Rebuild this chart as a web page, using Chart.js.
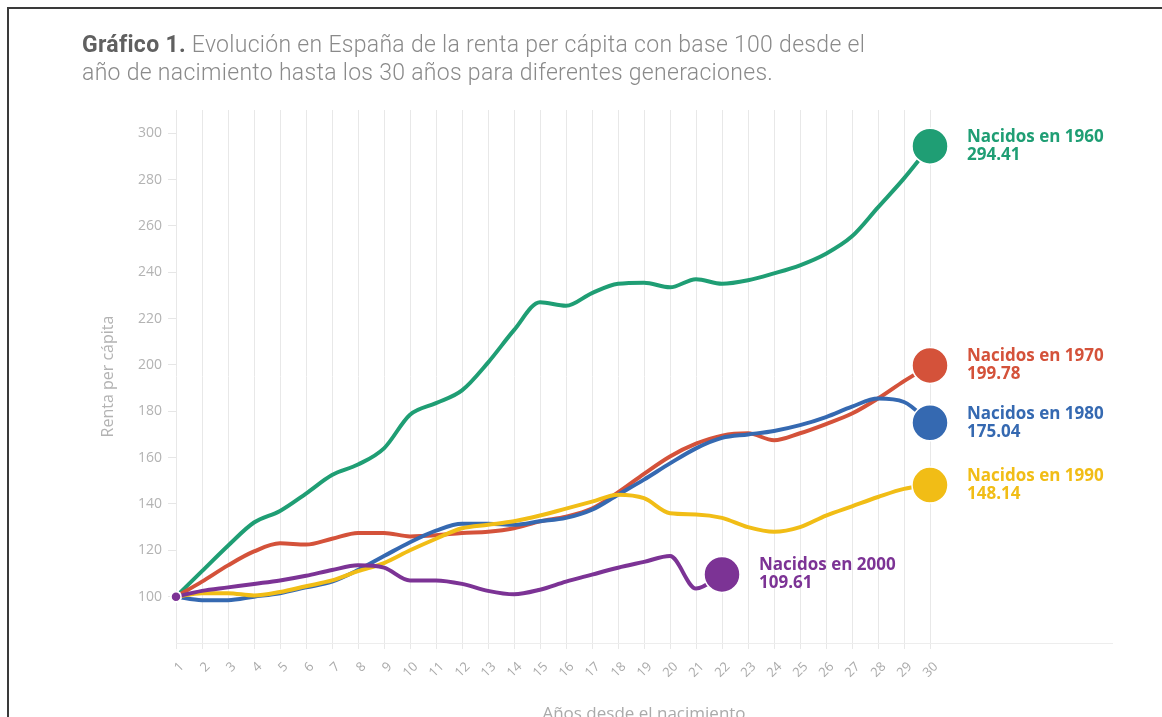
<!DOCTYPE html>
<html lang="es">
<head>
<meta charset="utf-8">
<title>Gráfico 1</title>
<script src="https://cdn.jsdelivr.net/npm/chart.js@4.4.1/dist/chart.umd.min.js"></script>
<style>
  html, body { margin: 0; padding: 0; background: #fff; overflow: hidden; }
  #wrap { position: relative; width: 1162px; height: 717px; overflow: hidden; }
  #frame { position: absolute; left: 7px; top: 7px; width: 1300px; height: 900px;
           border-top: 2px solid #3a3a3a; border-left: 2px solid #3a3a3a; }
  #title { position: absolute; left: 82px; top: 31px; font-family: Roboto, sans-serif;
           font-weight: 300; font-size: 23px; line-height: 28px; letter-spacing: 0.3px;
           color: #8a8a8a; white-space: nowrap; }
  #title b { font-weight: 700; color: #606060; }
  canvas { position: absolute; left: 0; top: 0; }
</style>
</head>
<body>
<div id="wrap">
  <div id="frame"></div>
  <canvas id="myChart" width="1162" height="740"></canvas>
  <div id="title"><b>Gráfico 1.</b> Evolución en España de la renta per cápita con base 100 desde el<br>año de nacimiento hasta los 30 años para diferentes generaciones.</div>
</div>
<script>
// years since birth (x axis)
const YEARS = [1, 2, 3, 4, 5, 6, 7, 8, 9, 10, 11, 12, 13, 14, 15,
  16, 17, 18, 19, 20, 21, 22, 23, 24, 25, 26, 27, 28, 29, 30];

const GENERATIONS = [1960, 1970, 1980, 1990, 2000];
const COLORS = ['#1f9e74', '#d4523a', '#3569b1', '#f1bd16', '#7c3395'];

// renta per capita, base 100 at birth
const NACIDOS_1960 = [100, 111, 122, 132, 137, 144.5, 152.5, 157, 164, 178.5,
  183.5, 189, 201, 215, 227, 225.5, 231, 235, 235.5, 233.5,
  237, 235, 236.5, 239.5, 243, 248, 255.5, 268, 280.5, 294.41];
const NACIDOS_1970 = [100, 106.5, 113.5, 119.5, 123, 122.5, 125, 127.5, 127.5, 126,
  126.5, 127.5, 128, 129.5, 132.5, 134.5, 138, 145, 153, 160.5,
  166, 169.5, 170.5, 167.5, 170.5, 174.5, 179, 185.5, 193, 199.78];
const NACIDOS_1980 = [100, 98.5, 98.5, 100, 101.5, 104, 106.5, 111.5, 117.5, 123.5,
  128.5, 131.5, 131.5, 131, 132.5, 134, 137.5, 144, 150.5, 157.5,
  164, 168.5, 170, 171.5, 174, 177.5, 182, 185.5, 184, 175.04];
const NACIDOS_1990 = [100, 101.5, 101.5, 100.5, 102, 104.5, 107, 111, 114.5, 120,
  125, 129.5, 131, 132.5, 135, 138, 141, 144, 142.5, 136,
  135.5, 134, 130, 128, 130, 135, 139, 143, 146.5, 148.14];
const NACIDOS_2000 = [100, 102.5, 104, 105.5, 107, 109, 111.5, 113.5, 112.5, 107,
  107, 105.5, 102.5, 101, 103, 106.5, 109.5, 112.5, 115, 117.5,
  103.5, 109.61];

const SERIES = [NACIDOS_1960, NACIDOS_1970, NACIDOS_1980, NACIDOS_1990, NACIDOS_2000];

const Y_TICKS = [100, 120, 140, 160, 180, 200, 220, 240, 260, 280, 300];

const DATASETS = SERIES.map((values, i) => ({
  label: String(GENERATIONS[i]),
  data: values.map((v, j) => ({ x: YEARS[j], y: v })),
  borderColor: COLORS[i],
  backgroundColor: COLORS[i],
  borderWidth: 4,
  borderCapStyle: 'round',
  cubicInterpolationMode: 'monotone',
  fill: false,
  clip: false,
  order: SERIES.length - i, // later generations on top
  pointBorderColor: '#ffffff',
  pointBorderWidth: 1.5,
  pointRadius: ctx => {
    const last = ctx.dataset.data.length - 1;
    if (ctx.dataIndex === last) return 18;
    return ctx.dataIndex === 0 ? 5 : 0;
  }
}));

// "Nacidos en XXXX / value" next to the end circle
const END_LABELS = {
  id: 'endLabels',
  afterDatasetsDraw(chart) {
    const { ctx } = chart;
    chart.data.datasets.forEach((ds, i) => {
      const meta = chart.getDatasetMeta(i);
      const pt = meta.data[meta.data.length - 1];
      const value = ds.data[ds.data.length - 1].y;
      ctx.save();
      ctx.fillStyle = ds.borderColor;
      ctx.font = 'bold 17px "Open Sans"';
      ctx.textAlign = 'left';
      ctx.textBaseline = 'middle';
      ctx.fillText('Nacidos en ' + ds.label, pt.x + 37, pt.y - 9);
      ctx.fillText(value.toFixed(2), pt.x + 37, pt.y + 9);
      ctx.restore();
    });
  }
};

const CONFIG = {
  type: 'line',
  data: { datasets: DATASETS },
  options: {
    responsive: false,
    animation: false,
    devicePixelRatio: 1,
    layout: { padding: { left: 95, top: 110, right: 50, bottom: 0 } },
    plugins: {
      legend: { display: false },
      tooltip: { enabled: false },
      title: { display: false }
    },
    scales: {
      x: {
        type: 'linear',
        min: 1,
        max: 37,
        afterBuildTicks: s => { s.ticks = YEARS.map(v => ({ value: v })); },
        afterFit: s => { s.height = 97; },
        ticks: {
          stepSize: 1,
          autoSkip: false,
          minRotation: 45,
          maxRotation: 45,
          color: '#aaaaaa',
          font: { family: 'Open Sans', size: 13 },
          padding: 10,
          labelOffset: 6
        },
        grid: { color: '#e8e8e8', lineWidth: 1, tickLength: 6 },
        border: { display: true, color: '#ededed' },
        title: {
          display: true,
          text: 'Años desde el nacimiento',
          color: '#aaaaaa',
          font: { family: 'Open Sans', size: 17 },
          padding: { top: 4, bottom: 16 }
        }
      },
      y: {
        min: 80,
        max: 310,
        afterBuildTicks: s => { s.ticks = Y_TICKS.map(v => ({ value: v })); },
        afterFit: s => { s.width = 81; },
        ticks: {
          color: '#b3b3b3',
          font: { family: 'Open Sans', size: 14 },
          padding: 6
        },
        grid: { drawOnChartArea: false, drawTicks: true, tickLength: 8, color: '#e6e6e6' },
        border: { display: false },
        title: {
          display: true,
          text: 'Renta per cápita',
          color: '#b3b3b3',
          font: { family: 'Open Sans', size: 16 },
          padding: { top: 4, bottom: 4 }
        }
      }
    }
  },
  plugins: [END_LABELS]
};

const MY_CHART = new Chart(document.getElementById('myChart'), CONFIG);
</script>
</body>
</html>
